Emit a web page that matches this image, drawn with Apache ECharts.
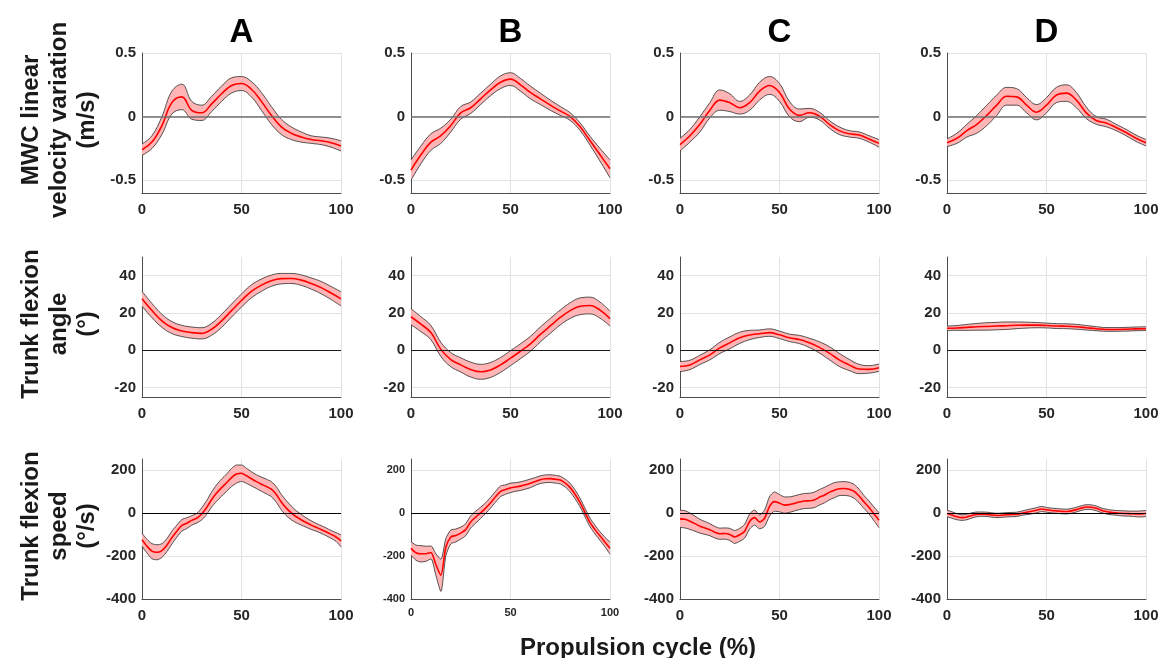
<!DOCTYPE html>
<html>
<head>
<meta charset="utf-8">
<script src="https://cdn.jsdelivr.net/npm/echarts@6/dist/echarts.min.js"></script>
<style>
  html, body { margin: 0; padding: 0; background: #fff; }
  #main { width: 1164px; height: 658px; }
</style>
</head>
<body>
<div id="main"></div>
<script>
// propulsion cycle samples (%)
const X5 = [0,5,10,15,20,25,30,35,40,45,50,55,60,65,70,75,80,85,90,95,100];
const X25 = [0,2.5,5,7.5,10,12.5,15,17.5,20,22.5,25,27.5,30,32.5,35,37.5,40,42.5,45,47.5,50,
  52.5,55,57.5,60,62.5,65,67.5,70,72.5,75,77.5,80,82.5,85,87.5,90,92.5,95,97.5,100];

const colTitles = ['A', 'B', 'C', 'D'];
const rowTitles = ['MWC linear\nvelocity variation\n(m/s)', 'Trunk flexion\nangle\n(°)', 'Trunk flexion\nspeed\n(°/s)'];
const xTitle = 'Propulsion cycle (%)';

// row 1 : MWC linear velocity variation (mean, sd)
const velMeanA = [-0.26,-0.20,-0.07,0.11,0.155,0.05,0.03,0.10,0.18,0.245,0.26,0.215,0.12,0.01,-0.08,-0.13,-0.16,-0.18,-0.19,-0.205,-0.23];
const velSdA = [0.045,0.05,0.07,0.09,0.1,0.07,0.06,0.06,0.06,0.06,0.055,0.06,0.07,0.07,0.06,0.05,0.04,0.03,0.03,0.035,0.04];
const velMeanB = [-0.42,-0.3,-0.2,-0.15,-0.07,0.03,0.07,0.14,0.21,0.27,0.295,0.25,0.19,0.14,0.09,0.045,0.0,-0.08,-0.19,-0.3,-0.41];
const velSdB = [0.08,0.07,0.065,0.06,0.05,0.05,0.045,0.045,0.045,0.05,0.05,0.05,0.05,0.045,0.04,0.035,0.03,0.03,0.035,0.05,0.07];
const velMeanC = [-0.22,-0.15,-0.06,0.05,0.13,0.11,0.07,0.11,0.2,0.245,0.19,0.06,0.01,0.03,0.005,-0.06,-0.11,-0.135,-0.145,-0.175,-0.21];
const velSdC = [0.05,0.05,0.06,0.06,0.08,0.07,0.05,0.06,0.07,0.07,0.07,0.06,0.05,0.035,0.03,0.03,0.03,0.025,0.025,0.025,0.03];
const velMeanD = [-0.205,-0.17,-0.11,-0.06,0.01,0.09,0.16,0.155,0.09,0.035,0.09,0.17,0.185,0.13,0.03,-0.03,-0.05,-0.085,-0.125,-0.17,-0.205];
const velSdD = [0.03,0.04,0.05,0.07,0.08,0.08,0.07,0.065,0.06,0.06,0.06,0.06,0.065,0.06,0.045,0.03,0.03,0.025,0.025,0.025,0.025];

// row 2 : trunk flexion angle (deg)
const angMeanA = [27.6,21.3,15.8,12.2,10.4,9.5,9.1,11.3,15.8,21.3,26.7,31.6,34.9,37.3,38.4,38.5,37.6,35.8,33.6,30.7,27.6];
const angSdA = [4,3.8,3.5,3.2,3,3,3,3.2,3.5,3.5,3.5,3.5,3.3,3,2.8,2.7,2.8,3,3.3,3.5,3.8];
const angMeanB = [18,14,9.5,0.5,-5,-7.8,-10.3,-11.5,-10.5,-7.8,-4.2,-0.5,3.5,8.5,13.1,17.6,21.3,23.6,24,21.5,17];
const angSdB = [4.3,4,3.8,3.8,3.8,3.8,4,4,4,4,4,4,4,4,4,4,4.2,4.5,4.5,4.3,4];
const angMeanC = [-8.7,-7.8,-5.1,-2.4,1.3,4,6.7,8.2,8.9,9.5,8.3,6.7,5.8,4,1.6,-1.5,-5.1,-7.8,-10,-10.2,-9.3];
const angSdC = [2.7,2.5,2.5,2.7,3,3.2,3,2.5,2,2,2,2,2.2,2.5,3,3.5,3.5,3,2.5,2,2];
const angMeanD = [11.8,12,12.3,12.6,12.8,13,13.2,13.4,13.5,13.5,13.3,13,12.9,12.6,12.1,11.6,11.2,11.2,11.3,11.5,11.6];
const angSdD = [1.2,1.3,1.6,1.8,2,2,2,1.8,1.6,1.4,1.3,1.3,1.3,1.3,1.2,1.1,1,1,1,1,1];

// row 3 : trunk flexion speed (deg/s)
const spdMeanA = [-125,-155,-178,-183,-175,-150,-115,-85,-58,-48,-35,-25,-5,25,62,92,117,140,164,180,184,
  172,158,145,133,122,110,85,50,22,0,-18,-32,-45,-57,-67,-77,-88,-100,-112,-130];
const spdSdA = [30,32,35,35,32,30,30,28,27,25,22,22,28,32,35,38,40,40,42,42,38,
  35,33,32,33,34,35,36,36,35,32,28,25,22,20,18,18,18,18,20,28];
const spdMeanB = [-165,-185,-190,-190,-184,-240,-290,-160,-112,-105,-94,-78,-42,-20,0,22,47,75,100,108,116,
  120,124,130,137,146,154,158,159,156,152,138,117,85,47,0,-45,-78,-108,-136,-164];
const spdSdB = [32,35,38,35,30,50,75,40,32,30,28,28,28,28,26,25,25,25,25,22,22,
  20,20,20,20,18,18,18,18,18,18,18,20,20,20,20,20,20,20,22,28];
const spdMeanC = [-28,-30,-39,-50,-62,-70,-78,-90,-97,-96,-100,-112,-102,-85,-40,-22,-42,-25,30,52,45,
  36,38,44,50,55,56,60,72,82,95,105,112,113,110,100,78,50,25,-5,-34];
const spdSdC = [40,40,38,35,32,30,28,27,26,26,28,30,30,32,35,35,32,38,45,45,40,
  38,36,35,35,35,35,36,36,36,35,35,32,32,32,32,32,30,30,32,35];
const spdMeanD = [-3,-10,-18,-22,-19,-12,-7,-6,-7,-10,-12,-11,-9,-8,-7,-2,3,7,12,18,14,
  11,9,7,6,9,15,22,27,26,21,12,6,2,0,-2,-3,-4,-5,-5,-3];
const spdSdD = [15,15,14,13,13,12,11,10,10,10,10,10,10,10,10,10,11,12,12,12,11,
  11,11,11,11,11,11,11,11,11,11,11,11,11,11,12,12,12,13,14,14];

// axis ticks per row
const velTicks = [-0.5, 0, 0.5];
const angTicks = [-20, 0, 20, 40];
const spdTicks = [-400, -200, 0, 200];

const FONT = "'Liberation Sans', Arial, sans-serif";
const colLeft = [142, 411, 680, 947];
const rowTop = [53, 257, 459];
const plotW = 199, plotH = 140;

const rows = [
  { min: -0.6, max: 0.5, ticks: velTicks, smooth: 0.4, zero: { color: '#6e6e6e', width: 1.5 },
    data: [[X5, velMeanA, velSdA], [X5, velMeanB, velSdB], [X5, velMeanC, velSdC], [X5, velMeanD, velSdD]] },
  { min: -25, max: 50, ticks: angTicks, smooth: 0.4, zero: { color: '#1a1a1a', width: 1 },
    data: [[X5, angMeanA, angSdA], [X5, angMeanB, angSdB], [X5, angMeanC, angSdC], [X5, angMeanD, angSdD]] },
  { min: -400, max: 250, ticks: spdTicks, smooth: 0.25, zero: { color: '#000', width: 1 },
    data: [[X25, spdMeanA, spdSdA], [X25, spdMeanB, spdSdB], [X25, spdMeanC, spdSdC], [X25, spdMeanD, spdSdD]] }
];

const grids = [], xAxes = [], yAxes = [], series = [], graphics = [];

rows.forEach((row, r) => {
  row.data.forEach((d, c) => {
    const i = grids.length;
    const [xs, mean, sd] = d;
    const fs = (r === 2 && c === 1) ? 11 : 15;
    const labelStyle = { fontFamily: FONT, fontWeight: 'bold', fontSize: fs, color: '#262626' };
    // show 0, 50, 100 only
    const every = (xs.length - 1) / 2 - 1;
    grids.push({ left: colLeft[c], top: rowTop[r], width: plotW, height: plotH });
    xAxes.push({
      gridIndex: i, type: 'category', boundaryGap: false, data: xs.map(String),
      axisLine: { show: true, onZero: false, lineStyle: { color: '#4d4d4d', width: 1 } },
      axisTick: { show: false, interval: every },
      splitLine: { show: true, interval: every, lineStyle: { color: '#e2e2e2', width: 1 } },
      axisLabel: Object.assign({ margin: fs === 15 ? 9 : 8, interval: every }, labelStyle)
    });
    yAxes.push({
      gridIndex: i, type: 'value', min: row.min, max: row.max,
      axisLine: { show: true, onZero: false, lineStyle: { color: '#4d4d4d', width: 1 } },
      axisTick: { show: false, customValues: row.ticks },
      splitLine: { show: true, lineStyle: { color: '#e2e2e2', width: 1 } },
      axisLabel: Object.assign({ margin: 6, customValues: row.ticks }, labelStyle)
    });
    const lower = mean.map((m, k) => m - sd[k]);
    const width = sd.map(s => 2 * s);
    const common = { type: 'line', xAxisIndex: i, yAxisIndex: i, symbol: 'none', smooth: row.smooth, silent: true };
    series.push(Object.assign({}, common, {
      data: lower, stack: 'band' + i, stackStrategy: 'all', z: 3,
      lineStyle: { color: '#2b2b2b', width: 0.8 }
    }));
    series.push(Object.assign({}, common, {
      data: width, stack: 'band' + i, stackStrategy: 'all', z: 2,
      lineStyle: { color: '#2b2b2b', width: 0.8 },
      areaStyle: { color: '#ffb5b5', opacity: 1 }
    }));
    series.push(Object.assign({}, common, {
      data: mean, z: 4,
      lineStyle: { color: '#ff0000', width: 1.6 },
      markLine: {
        silent: true, symbol: 'none', label: { show: false },
        lineStyle: { color: row.zero.color, width: row.zero.width, type: 'solid' },
        data: [{ yAxis: 0 }]
      }
    }));
  });
});

colTitles.forEach((t, c) => {
  graphics.push({
    type: 'text', x: colLeft[c] + plotW / 2, y: 33,
    style: { text: t, fontFamily: FONT, fontWeight: 'bold', fontSize: 33, fill: '#000', align: 'center', verticalAlign: 'middle' }
  });
});
rowTitles.forEach((t, r) => {
  graphics.push({
    type: 'text', x: 59, y: rowTop[r] + plotH / 2 - 3, rotation: Math.PI / 2,
    style: { text: t, fontFamily: FONT, fontWeight: 'bold', fontSize: 24, lineHeight: 28, fill: '#1a1a1a', align: 'center', verticalAlign: 'middle' }
  });
});
graphics.push({
  type: 'text', x: 638, y: 648,
  style: { text: xTitle, fontFamily: FONT, fontWeight: 'bold', fontSize: 24, fill: '#1a1a1a', align: 'center', verticalAlign: 'middle' }
});

const chart = echarts.init(document.getElementById('main'), null, { renderer: 'canvas' });
chart.setOption({
  animation: false,
  backgroundColor: '#fff',
  grid: grids,
  xAxis: xAxes,
  yAxis: yAxes,
  series: series,
  graphic: graphics
});
</script>
</body>
</html>
